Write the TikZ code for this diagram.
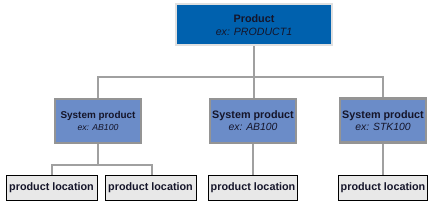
\documentclass[tikz,border=0pt]{standalone}
\usepackage{fontspec}
\setmainfont{Liberation Sans}
\definecolor{topblue}{HTML}{0061AE}
\definecolor{sysblue}{HTML}{6B8CC8}
\definecolor{locgray}{HTML}{E8E8E8}
\definecolor{linegray}{HTML}{A0A0A0}
\definecolor{txt}{HTML}{15152A}
\begin{document}
\begin{tikzpicture}[x=1pt,y=-1pt,
  conn/.style={draw=linegray,line width=1.6pt},
  topbox/.style={fill=topblue,draw=black!12,line width=2pt,minimum width=156pt,minimum height=41pt,inner sep=0pt,align=center,text=txt},
  sysbox/.style={fill=sysblue,draw=black!42,line width=2.4pt,minimum width=86pt,minimum height=44pt,inner sep=0pt,align=center,text=txt},
  locbox/.style={fill=locgray,draw=black,line width=0.8pt,minimum width=91pt,minimum height=25pt,inner sep=0pt,text=txt,font=\fontsize{10.8}{12}\selectfont\bfseries}]
\useasboundingbox (0,0) rectangle (435,205);
\node[topbox] (top) at (254,25) {\fontsize{10.8}{13}\selectfont\bfseries Product\\[1pt]\fontsize{10.6}{13}\selectfont\itshape ex: PRODUCT1};
\node[sysbox] (s1) at (98,121) {\fontsize{9.9}{12}\selectfont\bfseries System product\\\fontsize{8.7}{10}\selectfont\itshape ex: AB100};
\node[sysbox] (s2) at (253,121) {\fontsize{10.8}{13}\selectfont\bfseries System product\\\fontsize{10.4}{13}\selectfont\itshape ex: AB100};
\node[sysbox] (s3) at (383,120.5) {\fontsize{10.8}{13}\selectfont\bfseries System product\\\fontsize{10.4}{13}\selectfont\itshape ex: STK100};
\node[locbox] (l1) at (51.5,187.5) {product location};
\node[locbox] (l2) at (150.5,187.5) {product location};
\node[locbox,minimum width=89pt] (l3) at (253,187.5) {product location};
\node[locbox,minimum width=89pt] (l4) at (383,187.5) {product location};
\coordinate (h1) at (254,77);
\coordinate (h2) at (98,165);
\coordinate (d1) at (52,165);
\coordinate (d2) at (152,165);
\draw[conn] (top.south -| h1) -- (h1);
\draw[conn] (s1.north) |- (h1) -| (s3.north);
\draw[conn] (h1) -- (h1 |- s2.north);
\draw[conn] (s1.south) -- (h2);
\draw[conn] (d1 |- l1.north) -- (d1) -- (d2) -- (d2 |- l2.north);
\draw[conn] (s2.south) -- (l3.north);
\draw[conn] (s3.south) -- (l4.north);
\end{tikzpicture}
\end{document}
